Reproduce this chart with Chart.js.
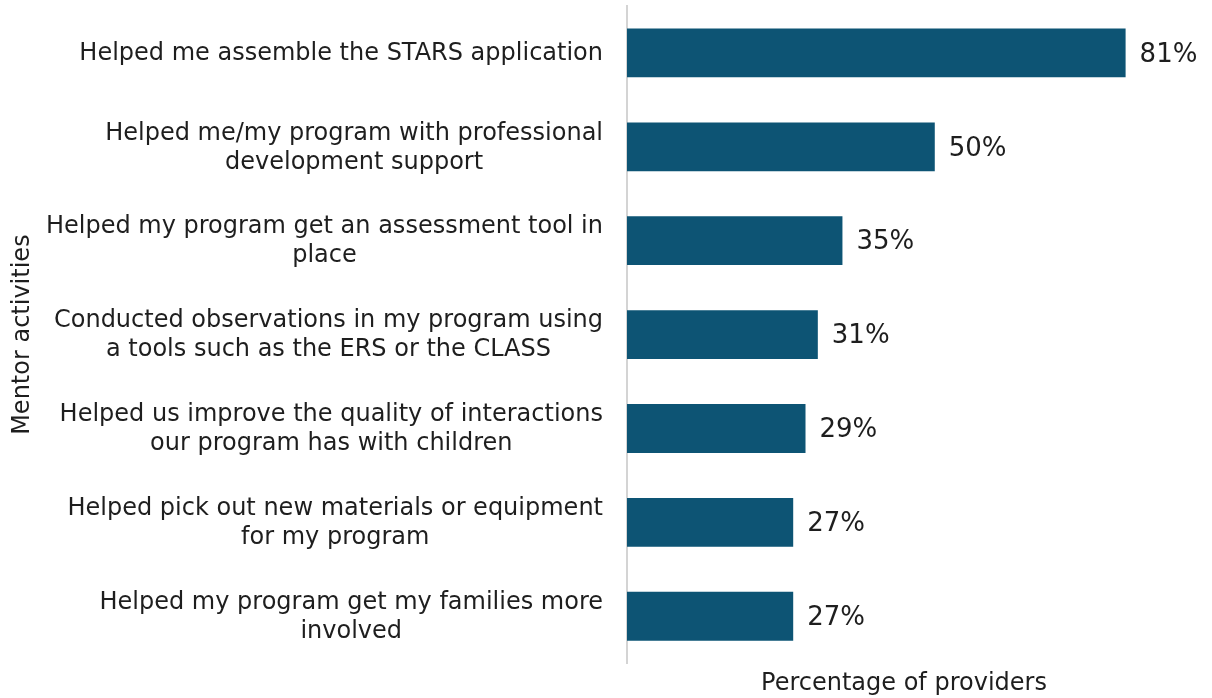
<!DOCTYPE html>
<html>
<head>
<meta charset="utf-8">
<script src="https://cdn.jsdelivr.net/npm/chart.js@4/dist/chart.umd.min.js"></script>
<style>
  html, body { margin: 0; padding: 0; background: #ffffff; }
  #wrap { width: 1212px; height: 698px; position: relative; }
</style>
</head>
<body>
<div id="wrap"><canvas id="chart"></canvas></div>
<script>
// Mentor activities (wrapped onto lines as they appear on the axis)
const activities = [
  ["Helped me assemble the STARS application"],
  ["Helped me/my program with professional", "development support"],
  ["Helped my program get an assessment tool in", "place"],
  ["Conducted observations in my program using", "a tools such as the ERS or the CLASS"],
  ["Helped us improve the quality of interactions", "our program has with children"],
  ["Helped pick out new materials or equipment", "for my program"],
  ["Helped my program get my families more", "involved"]
];
// Percentage of providers reporting each activity
const percentages = [81, 50, 35, 31, 29, 27, 27];

const xTitle = "Percentage of providers";
const yTitle = "Mentor activities";

const FONT = "'DejaVu Sans', Verdana, sans-serif";
const TEXT = "#1e1e1e";
const LABEL_GAP = 24;     // space between category labels and the axis line
const LINE_STEP = 29;     // line spacing inside a wrapped category label

// Category labels: each block sits flush against the axis, its lines centred
const categoryLabels = {
  id: "categoryLabels",
  afterDraw(chart) {
    const { ctx } = chart;
    const yScale = chart.scales.y;
    const right = chart.chartArea.left - LABEL_GAP;
    ctx.save();
    ctx.font = "24px " + FONT;
    ctx.fillStyle = TEXT;
    ctx.textAlign = "center";
    ctx.textBaseline = "middle";
    activities.forEach((lines, i) => {
      const y = yScale.getPixelForTick(i);
      const w = Math.max(...lines.map(l => ctx.measureText(l).width));
      const cx = right - w / 2;
      const y0 = y - (lines.length - 1) * LINE_STEP / 2;
      lines.forEach((line, j) => ctx.fillText(line, cx, y0 + j * LINE_STEP + 1));
    });
    ctx.restore();
  }
};

// Writes the percentage just past the end of each bar
const valueLabels = {
  id: "valueLabels",
  afterDatasetsDraw(chart) {
    const { ctx } = chart;
    const meta = chart.getDatasetMeta(0);
    ctx.save();
    ctx.font = "26px " + FONT;
    ctx.fillStyle = TEXT;
    ctx.textAlign = "left";
    ctx.textBaseline = "middle";
    meta.data.forEach((bar, i) => {
      ctx.fillText(percentages[i] + "%", bar.x + 14, bar.y + 2);
    });
    ctx.restore();
  }
};

new Chart(document.getElementById("chart"), {
  type: "bar",
  data: {
    labels: activities,
    datasets: [{
      data: percentages,
      backgroundColor: "#0d5474",
      borderWidth: 0,
      categoryPercentage: 1,
      barPercentage: 0.52
    }]
  },
  options: {
    indexAxis: "y",
    responsive: true,
    maintainAspectRatio: false,
    animation: false,
    layout: { padding: { top: 6, right: 31, bottom: 0, left: 0 } },
    plugins: {
      legend: { display: false },
      tooltip: { enabled: false }
    },
    scales: {
      x: {
        min: 0,
        max: 90,
        grid: { display: false, drawTicks: false },
        border: { display: false },
        ticks: { display: false },
        title: {
          display: true,
          text: xTitle,
          color: TEXT,
          font: { family: FONT, size: 24 },
          padding: { top: 6, bottom: 0 }
        }
      },
      y: {
        grid: { display: false, drawTicks: false },
        border: { display: true, color: "#d4d4d4", width: 2 },
        ticks: { display: false },
        title: {
          display: true,
          text: yTitle,
          color: TEXT,
          font: { family: FONT, size: 24 },
          padding: { top: 8, bottom: 0 }
        },
        afterFit(scale) {
          scale.width = 627;
          scale.paddingTop = 0;
          scale.paddingBottom = 0;
        }
      }
    }
  },
  plugins: [categoryLabels, valueLabels]
});
</script>
</body>
</html>
